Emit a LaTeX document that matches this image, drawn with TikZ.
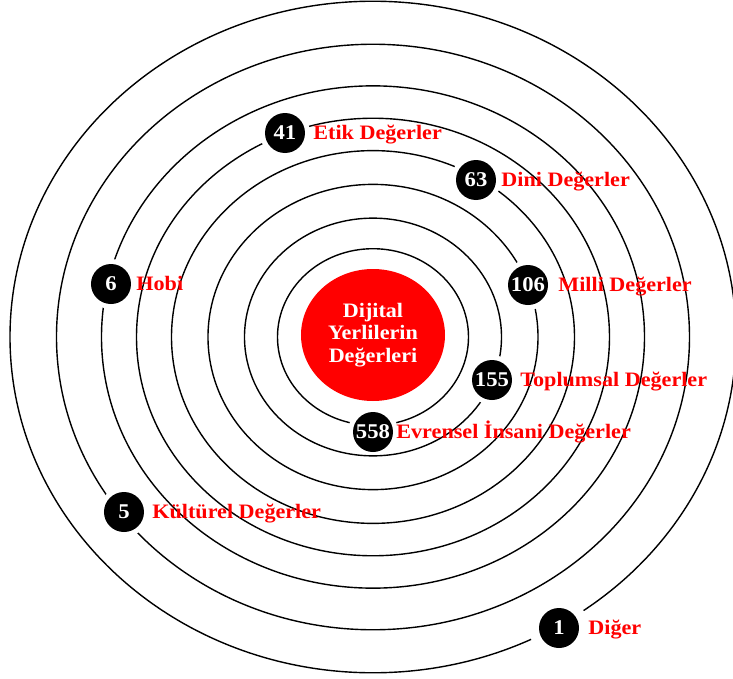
\documentclass[tikz,border=0pt]{standalone}
\usepackage{fontspec}
\setmainfont{Liberation Serif}[FakeStretch=1.08]
\usetikzlibrary{positioning}
\usetikzlibrary{shapes.geometric}

\begin{document}
\begin{tikzpicture}[x=1pt,y=1pt,
  ring/.style={line width=1.4pt},
  dot/.style={circle,fill=black,text=white,inner sep=0pt,minimum size=40pt,
    font=\fontsize{21}{22}\selectfont\bfseries,
    preaction={draw=white,line width=10pt}},
  widedot/.style={dot,preaction={draw=white,line width=20pt}},
  lbl/.style={text=red,inner sep=0pt,text height=13.5pt,text depth=0pt,
    font=\fontsize{20.5}{22}\selectfont\bfseries},
  core/.style={ellipse,fill=red,text=white,inner sep=0pt,minimum width=144pt,
    minimum height=132pt,align=center,font=\fontsize{20.5}{22.5}\selectfont\bfseries}]
\useasboundingbox (-373,-341) rectangle (360,337);

\draw[ring] (0,0) ellipse (95.5 and 88.3);
\node[dot] (d558) at (0,-95) {558};
\foreach \r in {128.5,165,201.5,236.5,271.5,316.5,363}
  \draw[ring] (0,0) ellipse ({\r} and {0.925*\r});

\node[core] (core) at (0,2) {Dijital\\Yerlilerin\\Değerleri};

\node[dot] (d155) at (119,-43) {155};
\node[dot] (d106) at (155,52) {106};
\node[dot] (d63) at (103,157) {63};
\node[dot] (d41) at (-88,204) {41};
\node[dot] (d6) at (-262,53) {6};
\node[dot] (d5) at (-249,-175) {5};
\node[widedot] (d1) at (186,-291) {1};

\node[lbl,right=3pt of d558] {Evrensel İnsani Değerler};
\node[lbl,right=8pt of d155] {Toplumsal Değerler};
\node[lbl,right=10pt of d106] {Milli Değerler};
\node[lbl,right=5pt of d63] {Dini Değerler};
\node[lbl,right=8pt of d41] {Etik Değerler};
\node[lbl,right=5pt of d6] {Hobi};
\node[lbl,right=8pt of d5] {Kültürel Değerler};
\node[lbl,right=9pt of d1] {Diğer};
\end{tikzpicture}
\end{document}
